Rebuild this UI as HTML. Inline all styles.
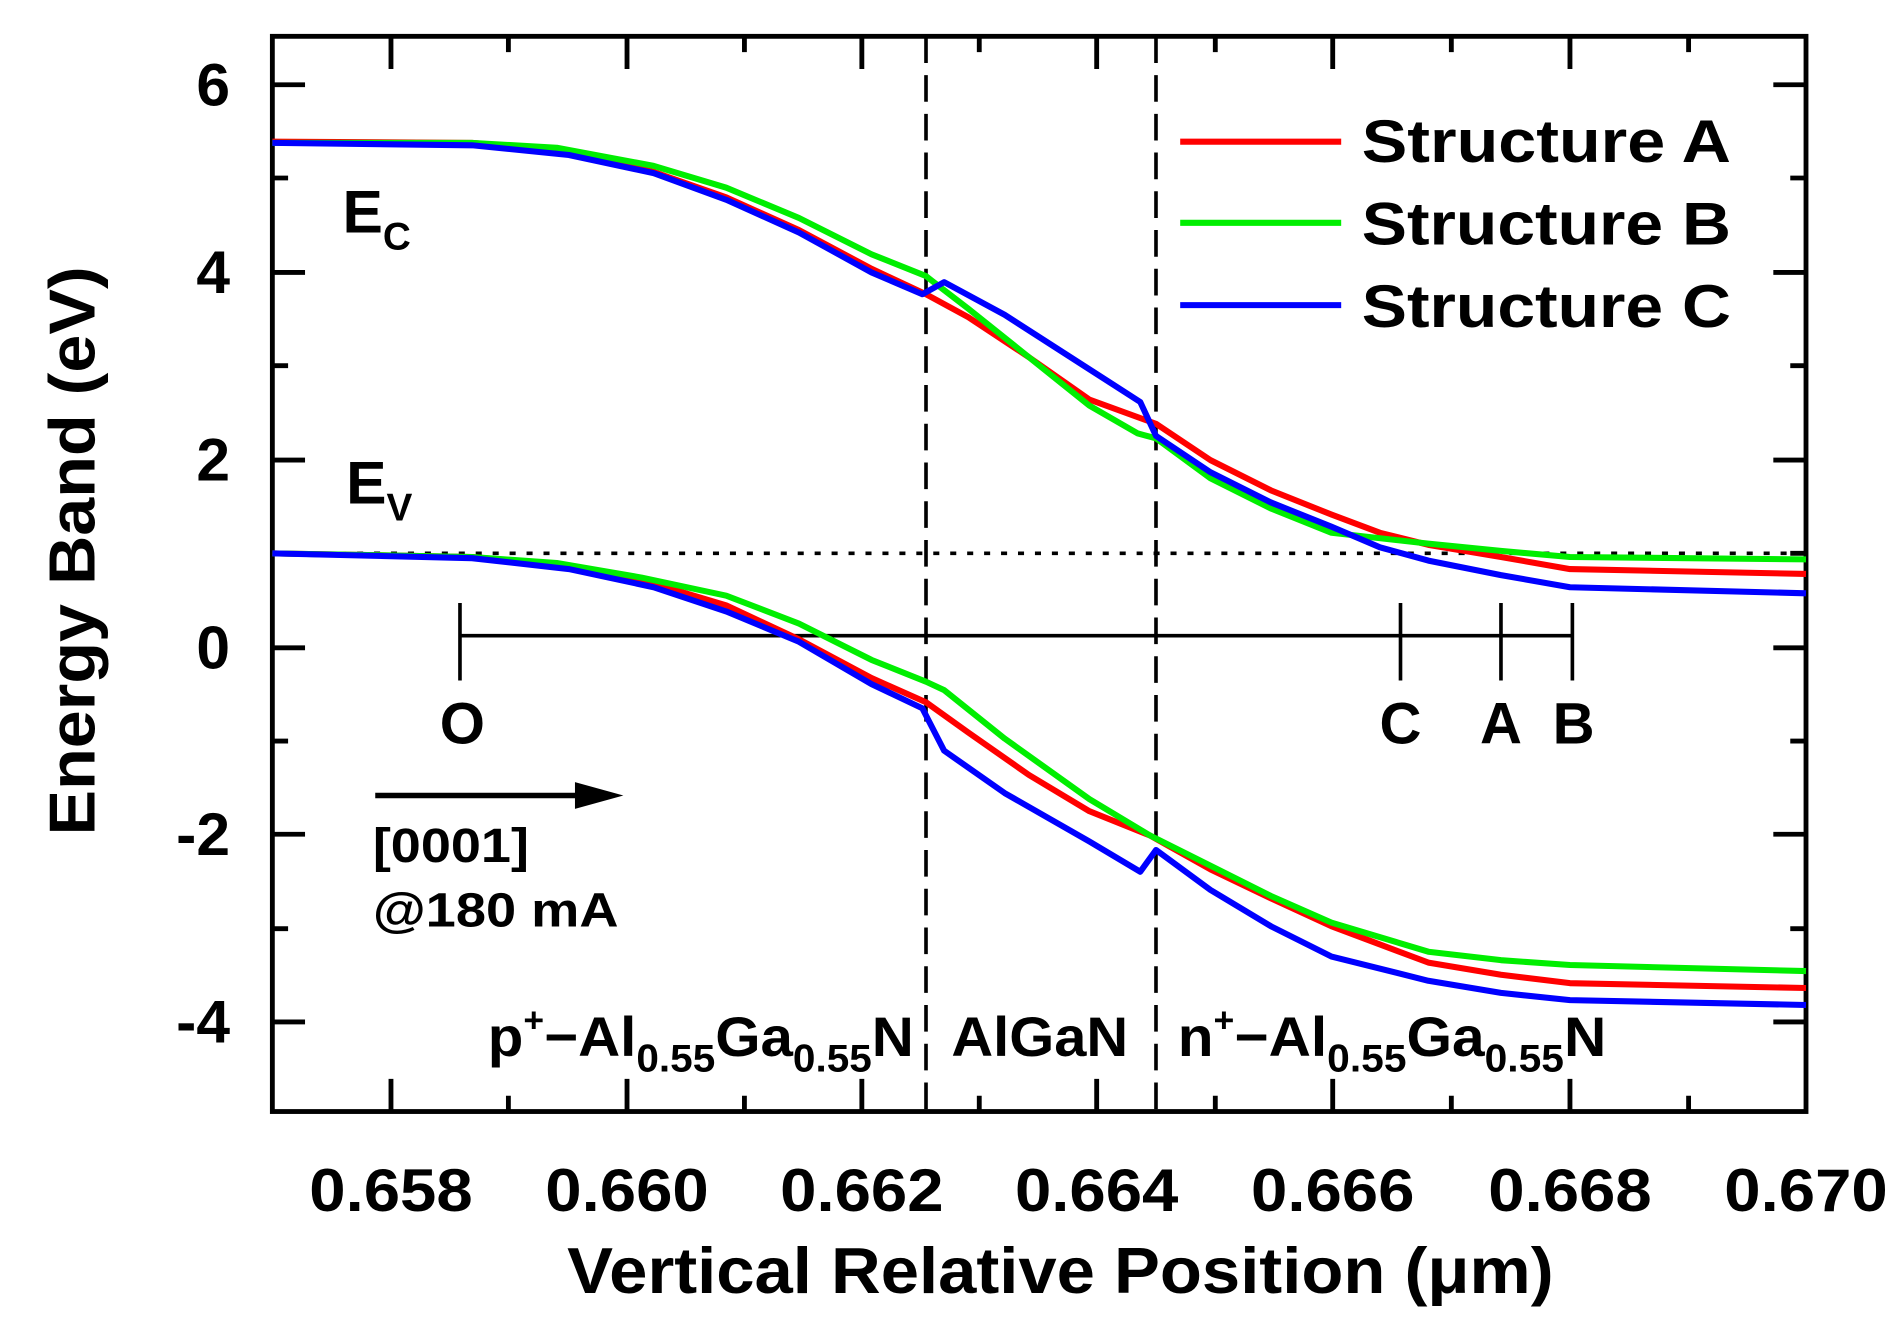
<!DOCTYPE html>
<html><head><style>html,body{margin:0;padding:0;background:#fff}svg{display:block}</style></head>
<body>
<svg width="1898" height="1344" viewBox="0 0 1568 1110" preserveAspectRatio="none" xmlns="http://www.w3.org/2000/svg" font-family="Liberation Sans, Arial, sans-serif" font-weight="bold">
<rect x="0" y="0" width="1568" height="1110" fill="#fff"/>
<g stroke="#000" stroke-width="4" fill="none">
<rect x="225" y="30" width="1267" height="888"/>
<path d="M323,918v-27M518,918v-27M712,918v-27M906,918v-27M1101,918v-27M1297,918v-27
M323,30v27M518,30v27M712,30v27M906,30v27M1101,30v27M1297,30v27
M420,918v-13M615,918v-13M809,918v-13M1004,918v-13M1199,918v-13M1395,918v-13
M420,30v13M615,30v13M809,30v13M1004,30v13M1199,30v13M1395,30v13"/>
<path d="M225,70h27M225,225h27M225,380h27M225,535h27M225,689h27M225,844h27
M1492,70h-27M1492,225h-27M1492,380h-27M1492,535h-27M1492,689h-27M1492,844h-27
M225,147h13M225,302h13M225,457h13M225,612h13M225,767h13
M1492,147h-13M1492,302h-13M1492,457h-13M1492,612h-13M1492,767h-13"/>
</g>
<g stroke="#000" stroke-width="3" fill="none">
<path d="M765,30V918M955,30V918" stroke-dasharray="22,10"/>
<path d="M225,457H1492" stroke-dasharray="5,9"/>
<path d="M380,525H1299M380,498v64M1157,498v64M1240,498v64M1299,498v64"/>
<path d="M310,657H485" stroke-width="4.5"/>
</g>
<path d="M475,646L515,657L475,668Z" fill="#000"/>
<g fill="none" stroke-width="5" stroke-linejoin="round">
<polyline stroke="#ff0000" points="225,117 390,118 460,124 540,142 600,163 660,190 720,222 765,243 800,262 850,295 900,330 955,350 1000,380 1050,405 1100,425 1140,440 1180,450 1240,460 1297,470 1492,474"/>
<polyline stroke="#00ee00" points="225,118 390,118 460,122 540,137 600,155 660,180 720,210 765,228 770,232 800,255 850,295 900,335 940,358 955,362 1000,395 1050,420 1100,440 1180,449 1240,455 1297,460 1492,462"/>
<polyline stroke="#0000ff" points="225,118 390,120 470,128 540,143 600,165 660,192 720,225 762,243 780,233 830,260 900,305 942,332 955,360 1000,390 1050,415 1100,435 1140,452 1180,463 1240,475 1297,485 1492,490"/>
<polyline stroke="#ff0000" points="225,457 390,460 470,467 540,482 600,500 660,528 720,560 765,580 800,605 850,640 900,670 950,690 1000,718 1050,742 1100,765 1180,795 1240,805 1297,812 1492,816"/>
<polyline stroke="#00ee00" points="225,457 390,460 460,465 530,477 600,492 660,515 720,545 765,563 780,570 830,610 900,660 950,690 1000,715 1050,740 1100,762 1180,786 1240,793 1297,797 1492,802"/>
<polyline stroke="#0000ff" points="225,457 390,461 470,470 540,485 600,505 660,530 720,565 762,585 780,620 830,655 900,695 942,720 955,702 1000,735 1050,765 1100,790 1180,810 1240,820 1297,826 1492,830"/>
<path d="M975,117H1108" stroke="#ff0000"/>
<path d="M975,184H1108" stroke="#00ee00"/>
<path d="M975,252H1108" stroke="#0000ff"/>
</g>
<g font-size="50" fill="#000">
<text x="1125" y="134" textLength="305" lengthAdjust="spacingAndGlyphs">Structure A</text>
<text x="1125" y="202" textLength="305" lengthAdjust="spacingAndGlyphs">Structure B</text>
<text x="1125" y="270" textLength="305" lengthAdjust="spacingAndGlyphs">Structure C</text>
</g>
<g font-size="50" fill="#000" text-anchor="end">
<text x="190" y="87">6</text><text x="190" y="242">4</text><text x="190" y="397">2</text>
<text x="190" y="552">0</text><text x="190" y="706">-2</text><text x="190" y="861">-4</text>
</g>
<g font-size="50" fill="#000" text-anchor="middle">
<text x="323" y="1000" textLength="135" lengthAdjust="spacingAndGlyphs">0.658</text>
<text x="518" y="1000" textLength="135" lengthAdjust="spacingAndGlyphs">0.660</text>
<text x="712" y="1000" textLength="135" lengthAdjust="spacingAndGlyphs">0.662</text>
<text x="906" y="1000" textLength="135" lengthAdjust="spacingAndGlyphs">0.664</text>
<text x="1101" y="1000" textLength="135" lengthAdjust="spacingAndGlyphs">0.666</text>
<text x="1297" y="1000" textLength="135" lengthAdjust="spacingAndGlyphs">0.668</text>
<text x="1492" y="1000" textLength="135" lengthAdjust="spacingAndGlyphs">0.670</text>
<text x="876" y="1068" font-size="54" textLength="815" lengthAdjust="spacingAndGlyphs">Vertical Relative Position (μm)</text>
<text x="382" y="614" font-size="48">O</text><text x="1157" y="614" font-size="48">C</text><text x="1240" y="614" font-size="48">A</text><text x="1300" y="614" font-size="48">B</text>
</g>
<text transform="translate(78,455) rotate(-90)" text-anchor="middle" font-size="54" fill="#000" textLength="470" lengthAdjust="spacingAndGlyphs">Energy Band (eV)</text>
<g fill="#000">
<text x="283" y="192" font-size="50">E<tspan font-size="32" dy="14">C</tspan></text>
<text x="286" y="416" font-size="50">E<tspan font-size="32" dy="14">V</tspan></text>
<text x="308" y="712" font-size="40" textLength="129" lengthAdjust="spacingAndGlyphs">[0001]</text>
<text x="308" y="765" font-size="40" textLength="203" lengthAdjust="spacingAndGlyphs">@180 mA</text>
<text x="403" y="872" font-size="46" textLength="352" lengthAdjust="spacingAndGlyphs">p<tspan font-size="28" dy="-20">+</tspan><tspan dy="20">−Al</tspan><tspan font-size="32" dy="13">0.55</tspan><tspan dy="-13">Ga</tspan><tspan font-size="32" dy="13">0.55</tspan><tspan dy="-13">N</tspan></text>
<text x="786" y="872" font-size="46" textLength="146" lengthAdjust="spacingAndGlyphs">AlGaN</text>
<text x="973" y="872" font-size="46" textLength="354" lengthAdjust="spacingAndGlyphs">n<tspan font-size="28" dy="-20">+</tspan><tspan dy="20">−Al</tspan><tspan font-size="32" dy="13">0.55</tspan><tspan dy="-13">Ga</tspan><tspan font-size="32" dy="13">0.55</tspan><tspan dy="-13">N</tspan></text>
</g>
</svg>
</body></html>
